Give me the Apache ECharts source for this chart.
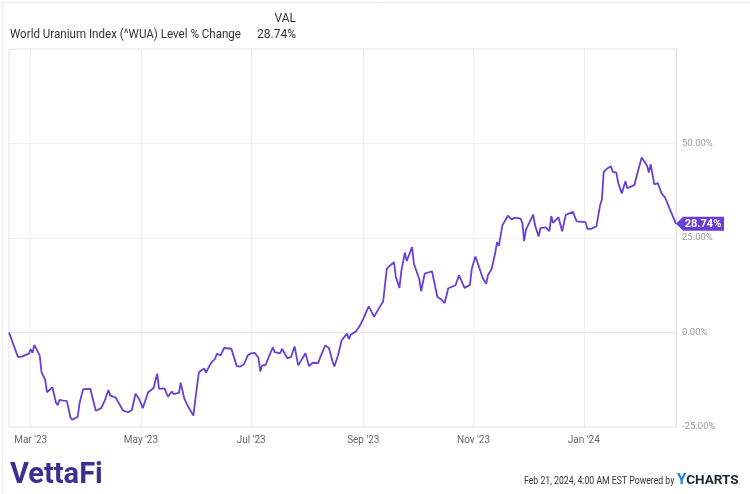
<!DOCTYPE html>
<html><head><meta charset="utf-8">
<script src="https://cdn.jsdelivr.net/npm/echarts@6/dist/echarts.min.js"></script>
<style>html,body{margin:0;padding:0;background:#fff}#c{width:750px;height:494px}</style>
</head><body><div id="c"></div>
<script>
const seriesName = 'World Uranium Index (^WUA) Level % Change';
const headerCol = 'VAL';
const startDate = '2023-02-17';
const endDate = '2024-02-21';
const labelMonths = ['03','05','07','09','11','01'];
const monthNames = ['Jan','Feb','Mar','Apr','May','Jun','Jul','Aug','Sep','Oct','Nov','Dec'];
const yTicks = [-25, 0, 25, 50];
const footerText = 'Feb 21, 2024, 4:00 AM EST Powered by';

const dates = [
'2023-02-17','2023-02-22','2023-02-24','2023-02-28','2023-03-01','2023-03-02','2023-03-03','2023-03-04','2023-03-06','2023-03-07',
'2023-03-09','2023-03-10','2023-03-13','2023-03-15','2023-03-16','2023-03-17','2023-03-19','2023-03-21','2023-03-23','2023-03-24',
'2023-03-27','2023-03-28','2023-03-30','2023-04-03','2023-04-06','2023-04-07','2023-04-09','2023-04-11','2023-04-12','2023-04-13',
'2023-04-14','2023-04-17','2023-04-18','2023-04-21','2023-04-24','2023-04-26','2023-04-28','2023-04-30','2023-05-02','2023-05-03',
'2023-05-05','2023-05-08','2023-05-09','2023-05-10','2023-05-11','2023-05-14','2023-05-16','2023-05-18','2023-05-19','2023-05-22',
'2023-05-23','2023-05-25','2023-05-26','2023-05-27','2023-05-30','2023-05-31','2023-06-02','2023-06-03','2023-06-05','2023-06-06',
'2023-06-07','2023-06-08','2023-06-09','2023-06-11','2023-06-12','2023-06-13','2023-06-14','2023-06-16','2023-06-17','2023-06-20',
'2023-06-23','2023-06-25','2023-06-27','2023-06-29','2023-07-01','2023-07-03','2023-07-05','2023-07-06','2023-07-07','2023-07-09',
'2023-07-11','2023-07-13','2023-07-14','2023-07-17','2023-07-18','2023-07-19','2023-07-21','2023-07-23','2023-07-25','2023-07-27',
'2023-07-28','2023-07-31','2023-08-01','2023-08-02','2023-08-03','2023-08-04','2023-08-07','2023-08-08','2023-08-09','2023-08-11',
'2023-08-13','2023-08-15','2023-08-16','2023-08-18','2023-08-20','2023-08-23','2023-08-24','2023-08-25','2023-08-28','2023-08-30',
'2023-08-31','2023-09-01','2023-09-04','2023-09-07','2023-09-08','2023-09-11','2023-09-12','2023-09-14','2023-09-16','2023-09-18',
'2023-09-19','2023-09-21','2023-09-22','2023-09-24','2023-09-25','2023-09-26','2023-09-28','2023-09-29','2023-10-02','2023-10-03',
'2023-10-05','2023-10-06','2023-10-09','2023-10-12','2023-10-14','2023-10-16','2023-10-17','2023-10-18','2023-10-19','2023-10-22',
'2023-10-24','2023-10-25','2023-10-27','2023-10-30','2023-10-31','2023-11-02','2023-11-04','2023-11-06','2023-11-07','2023-11-08',
'2023-11-09','2023-11-11','2023-11-13','2023-11-14','2023-11-15','2023-11-17','2023-11-20','2023-11-22','2023-11-24','2023-11-27',
'2023-11-28','2023-11-29','2023-11-30','2023-12-04','2023-12-05','2023-12-07','2023-12-08','2023-12-11','2023-12-12','2023-12-13',
'2023-12-14','2023-12-15','2023-12-18','2023-12-20','2023-12-22','2023-12-26','2023-12-28','2023-12-29','2024-01-02','2024-01-03',
'2024-01-04','2024-01-05','2024-01-08','2024-01-10','2024-01-11','2024-01-12','2024-01-14','2024-01-16','2024-01-17','2024-01-19',
'2024-01-20','2024-01-22','2024-01-24','2024-01-25','2024-01-29','2024-01-30','2024-01-31','2024-02-02','2024-02-03','2024-02-05',
'2024-02-06','2024-02-07','2024-02-09','2024-02-11','2024-02-13','2024-02-14','2024-02-15','2024-02-17','2024-02-21'];

const values = [
0.00, -6.5, -6.4, -5.6, -4.4, -5.4, -3.3, -4.2, -6.1, -10.5,
-12.5, -15.8, -14.5, -18.6, -19.2, -17.8, -18.0, -18.1, -22.5, -23.1,
-22.3, -18.8, -15.0, -14.9, -20.7, -20.5, -20.0, -18.0, -18.0, -15.2,
-16.7, -17.2, -17.5, -20.6, -21.1, -20.5, -16.2, -17.6, -20.0, -19.7,
-15.8, -14.7, -12.7, -10.9, -14.9, -14.8, -17.0, -15.6, -16.3, -16.0,
-13.3, -17.5, -17.8, -19.5, -22.0, -18.0, -10.7, -10.1, -9.5, -10.6,
-10.9, -8.7, -7.9, -7.0, -5.6, -5.5, -6.1, -4.1, -3.9, -4.3,
-8.9, -9.0, -8.4, -6.1, -5.5, -5.4, -6.7, -10.3, -8.7, -8.6,
-6.1, -3.9, -5.2, -5.5, -4.3, -4.2, -6.8, -6.5, -3.7, -8.7,
-8.6, -5.5, -5.8, -8.9, -8.7, -8.0, -8.1, -6.8, -6.5, -3.4,
-4.1, -7.7, -9.0, -6.1, -2.1, -0.3, -1.7, -0.6, 0.3, 1.7,
1.6, 3.7, 6.9, 4.2, 4.5, 7.5, 8.2, 16.9, 17.8, 18.6,
14.7, 11.8, 16.1, 21.2, 18.9, 18.9, 22.6, 18.2, 14.1, 10.9,
15.6, 16.0, 16.2, 9.4, 8.8, 7.8, 9.7, 11.7, 12.2, 12.5,
15.1, 15.2, 11.8, 12.6, 16.8, 20.1, 17.4, 14.5, 14.3, 12.9,
15.2, 16.8, 21.1, 23.9, 22.9, 28.4, 30.9, 29.9, 30.4, 30.1,
29.0, 24.2, 27.2, 31.2, 28.4, 25.4, 27.6, 27.8, 28.1, 26.8,
30.8, 29.0, 30.5, 26.8, 31.1, 31.9, 29.4, 29.7, 29.2, 27.4,
27.8, 27.4, 28.1, 33.7, 35.1, 42.5, 43.4, 44.0, 42.5, 42.3,
39.6, 36.8, 40.0, 38.2, 39.0, 41.0, 41.2, 46.3, 46.0, 44.1,
42.3, 44.5, 39.2, 39.5, 36.8, 36.5, 35.7, 33.3, 28.74];

// calendar-day categories for the time axis
const cats = [];
for (let t = Date.parse(startDate + 'T00:00:00Z'); t <= Date.parse(endDate + 'T00:00:00Z'); t += 86400000) {
  cats.push(new Date(t).toISOString().slice(0, 10));
}
const byDate = {};
dates.forEach((d, i) => { byDate[d] = values[i]; });
const seriesData = cats.map(c => (c in byDate ? byDate[c] : null));
const lastVal = values[values.length - 1];
const lastDate = dates[dates.length - 1];
const lastText = lastVal.toFixed(2) + '%';

const isMonthTick = (idx, val) => val.slice(8) === '01' && labelMonths.indexOf(val.slice(5, 7)) >= 0;
const purple = '#6a3fd4';
const FONT = 'Roboto';

const chart = echarts.init(document.getElementById('c'), null, {renderer: 'canvas'});
chart.setOption({
  animation: false,
  backgroundColor: '#fff',
  grid: {left: 9, right: 74, top: 49, bottom: 67, show: true, borderColor: '#e4e4e4', borderWidth: 1, containLabel: false},
  xAxis: {
    type: 'category', data: cats, boundaryGap: false,
    axisLine: {show: true, lineStyle: {color: '#e4e4e4'}},
    axisTick: {show: false},
    axisLabel: {
      interval: isMonthTick, color: '#666', fontSize: 10, fontFamily: FONT, margin: 8,
      formatter: v => monthNames[parseInt(v.slice(5, 7), 10) - 1] + " '" + v.slice(2, 4)
    },
    splitLine: {show: true, interval: isMonthTick, lineStyle: {color: '#efefef', width: 1}}
  },
  yAxis: {
    type: 'value', position: 'right', min: -25, max: 75, interval: 25,
    axisLine: {show: true, lineStyle: {color: '#e4e4e4'}},
    axisTick: {show: false},
    splitLine: {show: true, lineStyle: {color: '#efefef'}},
    axisLabel: {
      color: '#999', fontSize: 9.5, fontFamily: FONT, margin: 6, padding: [0, 0, 7, 0],
      formatter: v => (yTicks.indexOf(v) >= 0 ? v.toFixed(2) + '%' : '')
    }
  },
  series: [{
    name: seriesName, type: 'line', data: seriesData, connectNulls: true,
    showSymbol: false, symbol: 'none', smooth: false,
    lineStyle: {color: purple, width: 1.8},
    itemStyle: {color: purple},
    markPoint: {
      symbol: 'path://M0,7L7,0L48,0L48,14L7,14Z',
      symbolSize: [48, 14], symbolKeepAspect: false, symbolOffset: [24, 0],
      itemStyle: {color: purple},
      label: {show: true, position: 'inside', formatter: lastText, color: '#fff', fontSize: 11, fontWeight: 'bold', fontFamily: FONT, offset: [3, 0]},
      data: [{coord: [lastDate, lastVal], value: lastVal}]
    }
  }],
  graphic: [
    {type: 'rect', left: 0, top: 0, shape: {x: 0.5, y: 0.5, width: 749, height: 493}, style: {fill: 'none', stroke: '#ebebeb', lineWidth: 1}, silent: true},
    {type: 'text', right: 454, top: 13, style: {text: headerCol, font: '12px Roboto', fill: '#333'}},
    {type: 'text', x: 10, y: 29, scaleX: 0.965, style: {text: seriesName, font: '12px Roboto', fill: '#333'}},
    {type: 'text', right: 454, top: 29, style: {text: lastText, font: '12px Roboto', fill: '#333'}},
    {type: 'text', x: 10, y: 461, style: {text: 'VettaFi', font: 'bold 29px Roboto', fill: '#3d2f91'}},
    {type: 'text', x: 524, y: 476, scaleX: 0.87, style: {text: footerText, font: '10px Roboto', fill: '#333'}},
    {type: 'text', x: 677, y: 473, style: {
      text: '{y|Y}{c|CHARTS}',
      rich: {y: {fontSize: 15, fontWeight: 'bold', fill: '#1f7ae0', fontFamily: FONT}, c: {fontSize: 13.5, fontWeight: 'bold', fill: '#1d2733', fontFamily: FONT}}
    }}
  ]
});
</script></body></html>
